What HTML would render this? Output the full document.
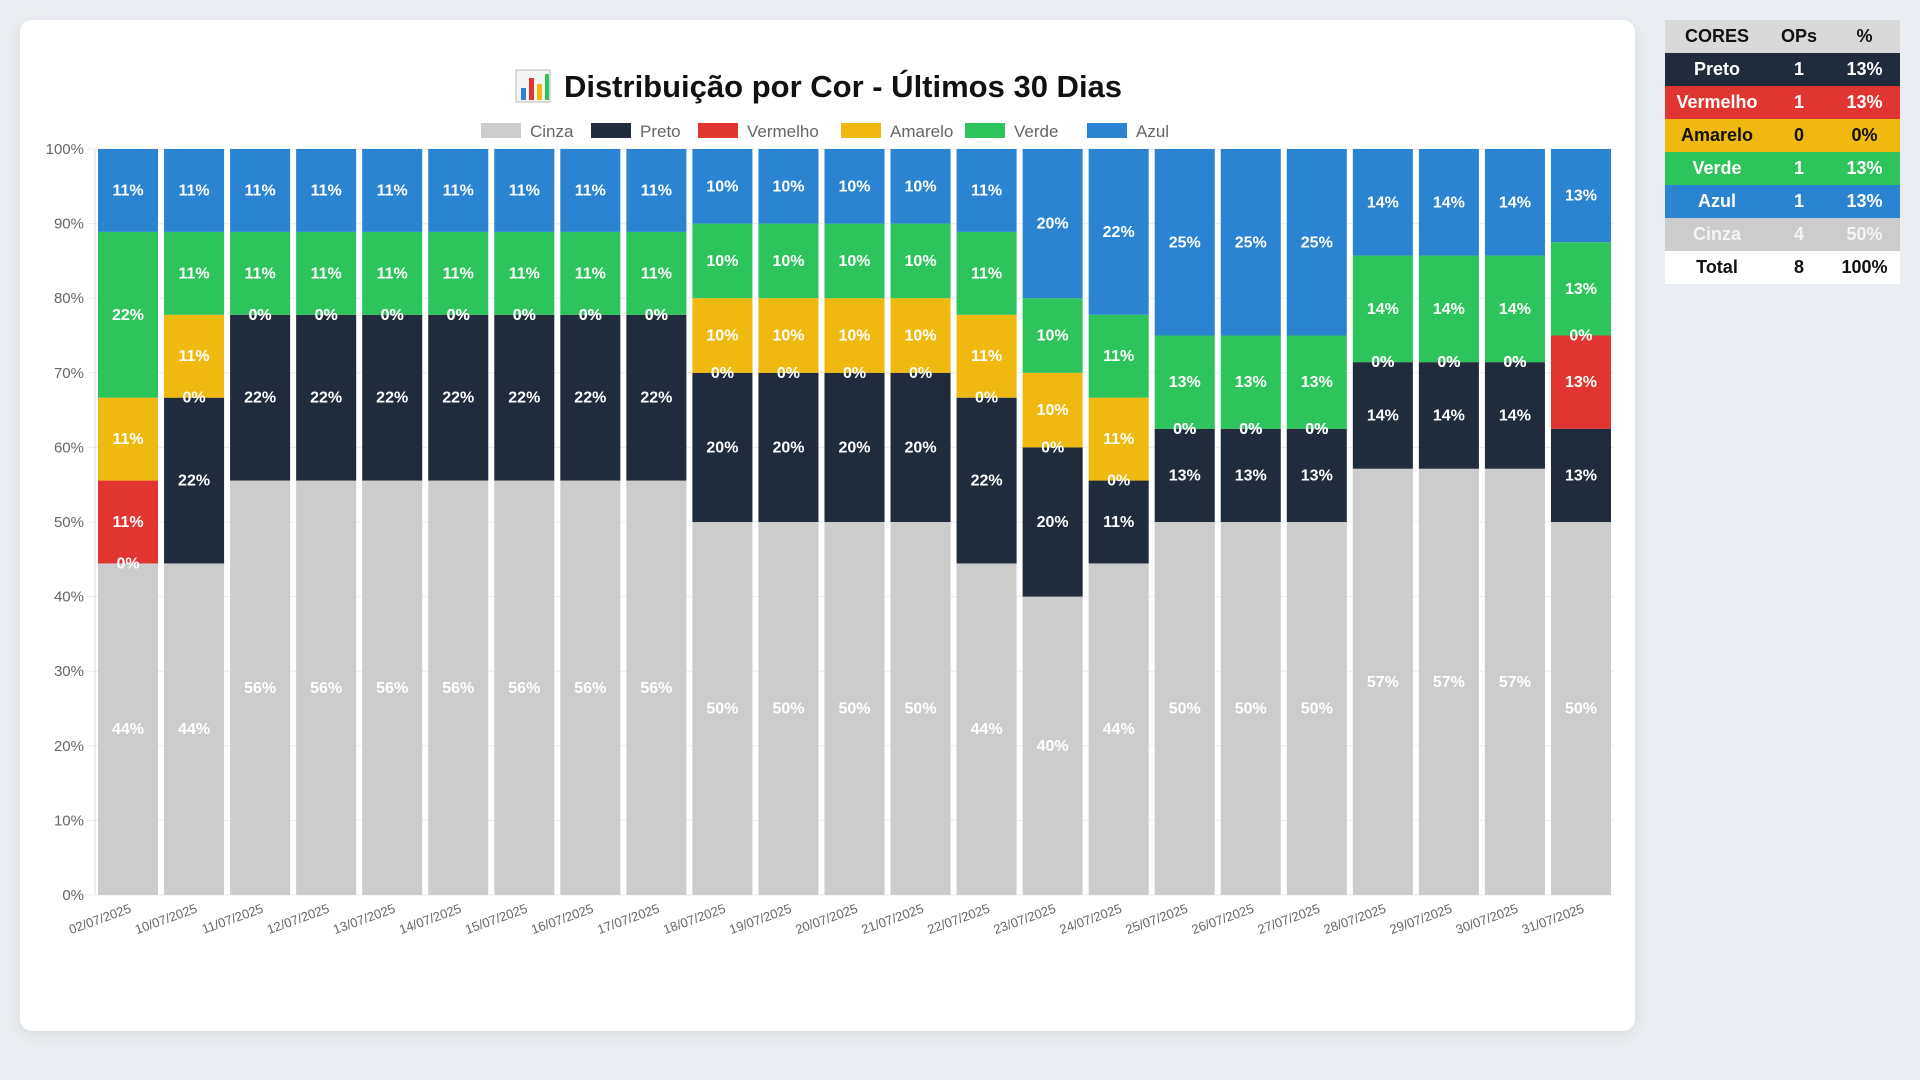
<!DOCTYPE html>
<html><head><meta charset="utf-8">
<style>
body{margin:0;width:1920px;height:1080px;background:#eaedf1;font-family:"Liberation Sans",Arial,sans-serif;position:relative;overflow:hidden}
#card{position:absolute;left:20px;top:20px;width:1615px;height:1011px;background:#fff;border-radius:12px;box-shadow:0 4px 14px rgba(0,0,0,0.08)}
#chart{position:absolute;left:0;top:0}
table{position:absolute;left:1665px;top:20px;width:235px;border-collapse:collapse;font-weight:bold;font-size:18px;text-align:center;table-layout:fixed}
td,th{height:33px;padding:0}
</style></head><body>
<div id="card"></div>
<svg id="chart" width="1920" height="1080"></svg>
<table>
<colgroup><col style="width:104px"><col style="width:60px"><col style="width:71px"></colgroup>
<tr style="background:#d9d9d9;color:#111"><th>CORES</th><th>OPs</th><th>%</th></tr>
<tr style="background:#202b3c;color:#fff"><td>Preto</td><td>1</td><td>13%</td></tr>
<tr style="background:#e03530;color:#fff"><td>Vermelho</td><td>1</td><td>13%</td></tr>
<tr style="background:#f0b910;color:#111"><td>Amarelo</td><td>0</td><td>0%</td></tr>
<tr style="background:#2dc45b;color:#fff"><td>Verde</td><td>1</td><td>13%</td></tr>
<tr style="background:#2b84d2;color:#fff"><td>Azul</td><td>1</td><td>13%</td></tr>
<tr style="background:#cccccc;color:#f4f4f4"><td>Cinza</td><td>4</td><td>50%</td></tr>
<tr style="background:#fff;color:#111"><td>Total</td><td>8</td><td>100%</td></tr>
</table>
<script>
const categories=["02/07/2025","10/07/2025","11/07/2025","12/07/2025","13/07/2025","14/07/2025","15/07/2025","16/07/2025","17/07/2025","18/07/2025","19/07/2025","20/07/2025","21/07/2025","22/07/2025","23/07/2025","24/07/2025","25/07/2025","26/07/2025","27/07/2025","28/07/2025","29/07/2025","30/07/2025","31/07/2025"];
const seriesNames=["Cinza","Preto","Vermelho","Amarelo","Verde","Azul"];
const cinza=[4,4,5,5,5,5,5,5,5,5,5,5,5,4,4,4,4,4,4,4,4,4,4];
const preto=[0,2,2,2,2,2,2,2,2,2,2,2,2,2,2,1,1,1,1,1,1,1,1];
const vermelho=[1,0,0,0,0,0,0,0,0,0,0,0,0,0,0,0,0,0,0,0,0,0,1];
const amarelo=[1,1,0,0,0,0,0,0,0,1,1,1,1,1,1,1,0,0,0,0,0,0,0];
const verde=[2,1,1,1,1,1,1,1,1,1,1,1,1,1,1,1,1,1,1,1,1,1,1];
const azul=[1,1,1,1,1,1,1,1,1,1,1,1,1,1,2,2,2,2,2,1,1,1,1];
const yTicks=[0,10,20,30,40,50,60,70,80,90,100];
const colors=["#cccccc","#202b3c","#e03530","#f0b910","#2dc45b","#2b84d2"];
const series=[cinza,preto,vermelho,amarelo,verde,azul];
const NS="http://www.w3.org/2000/svg";
const svg=document.getElementById('chart');
const X0=95,X1=1614,Y0=895,Y1=149;
const band=(X1-X0)/categories.length;
const xPos=i=>X0+i*band;
const yPos=p=>Y0-(Y0-Y1)*p/100;
function mk(tag,attrs,parent){const e=document.createElementNS(NS,tag);for(const k in attrs)e.setAttribute(k,attrs[k]);(parent||svg).appendChild(e);return e;}
const tg=mk('g',{});


const t=mk('text',{x:843,y:97,'text-anchor':'middle','font-size':31,'font-weight':'bold',fill:'#111'},tg);
t.textContent='Distribuição por Cor - Últimos 30 Dias';
mk('rect',{x:516,y:70,width:34,height:32,fill:'#f4f4f4',stroke:'#bbb'},tg);
[[521,88,5,'#2b84d2'],[529,78,5,'#e03530'],[537,84,5,'#f0b910'],[545,74,4,'#2dc45b']].forEach(b=>mk('rect',{x:b[0],y:b[1],width:b[2],height:100-b[1],fill:b[3]},tg));
const legX=[481,591,698,841,965,1087];
seriesNames.forEach((n,i)=>{
 const g=mk('g',{});
 
 
 mk('rect',{x:legX[i],y:123,width:40,height:15,fill:colors[i]},g);
 const tx=mk('text',{x:legX[i]+49,y:137,'font-size':17,fill:'#666'},g);tx.textContent=n;
});
yTicks.forEach(v=>{
 const y=yPos(v);
 const l=mk('line',{x1:X0-8,x2:X1,y1:y,y2:y,stroke:'#ececec'});
 
 
 const tx=mk('text',{x:X0-11,y:y+5,'text-anchor':'end','font-size':15,fill:'#666'});
 
 
 tx.textContent=v+'%';
});
mk('line',{x1:X0,x2:X0,y1:Y1,y2:Y0,stroke:'#ddd'});
const labels=[];
categories.forEach((c,i)=>{
 let total=0;series.forEach(s=>total+=s[i]);
 let acc=0;
 const bx=xPos(i)+3,bw=band-6;
 series.forEach((s,k)=>{
  const p0=acc/total*100;acc+=s[i];const p1=acc/total*100;
  if(s[i]>0){
   const r=mk('rect',{x:bx,y:yPos(p1),width:bw,height:yPos(p0)-yPos(p1),fill:colors[k]});
   
   
  }
  labels.push([bx+bw/2,(yPos(p0)+yPos(p1))/2,Math.round(s[i]/total*100)+'%']);
 });
 const ax=xPos(i)+band/2+4;
 const xl=mk('text',{x:ax,y:912,'text-anchor':'end','font-size':13,fill:'#666',transform:`rotate(-20 ${ax} 912)`});
 
 
 xl.textContent=c;
});
labels.forEach(l=>{
 const tx=mk('text',{x:l[0],y:l[1]+5,'text-anchor':'middle','font-size':16,'font-weight':'bold',fill:'#fff'});
 
 
 tx.textContent=l[2];
});
</script>
</body></html>
